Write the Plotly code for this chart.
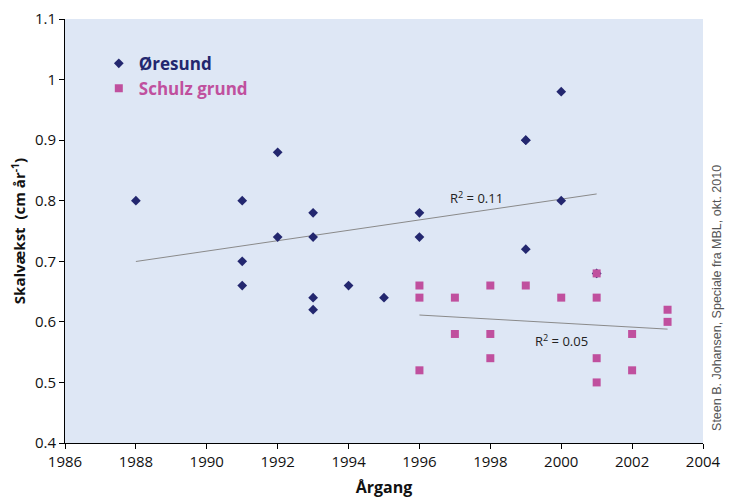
import numpy as np
import plotly.graph_objects as go

# Øresund
oresund_year = [1988, 1991, 1991, 1991, 1992, 1992, 1993, 1993, 1993, 1993,
                1994, 1995, 1996, 1996, 1999, 1999, 1999, 2000, 2000, 2001]
oresund_val = [0.80, 0.80, 0.70, 0.66, 0.88, 0.74, 0.78, 0.74, 0.64, 0.62,
               0.66, 0.64, 0.78, 0.74, 0.90, 0.90, 0.72, 0.98, 0.80, 0.68]

# Schulz grund
schulz_year = [1996, 1996, 1996, 1997, 1997, 1998, 1998, 1998, 1999, 2000,
               2001, 2001, 2001, 2001, 2002, 2002, 2003, 2003]
schulz_val = [0.66, 0.64, 0.52, 0.64, 0.58, 0.66, 0.58, 0.54, 0.66, 0.64,
              0.68, 0.64, 0.54, 0.50, 0.58, 0.52, 0.62, 0.60]

r2_labels = ["R<sup>2</sup> = 0.11", "R<sup>2</sup> = 0.05"]

NAVY = "#23276F"
PINK = "#C0509E"

def trend(xs, ys):
    xs = np.array(xs, float); ys = np.array(ys, float)
    m, b = np.polyfit(xs, ys, 1)
    x2 = np.array([xs.min(), xs.max()])
    return x2, m * x2 + b

fig = go.Figure()

tx, ty = trend(oresund_year, oresund_val)
fig.add_trace(go.Scatter(x=tx, y=ty, mode="lines", line=dict(color="#8a8a8a", width=1),
                         showlegend=False, hoverinfo="skip"))
tx2, ty2 = trend(schulz_year, schulz_val)
fig.add_trace(go.Scatter(x=tx2, y=ty2, mode="lines", line=dict(color="#8a8a8a", width=1),
                         showlegend=False, hoverinfo="skip"))

fig.add_trace(go.Scatter(x=oresund_year, y=oresund_val, mode="markers",
                         name="<b><span style='color:%s'>Øresund</span></b>" % NAVY,
                         marker=dict(symbol="diamond", size=7.5, color=NAVY)))
fig.add_trace(go.Scatter(x=schulz_year, y=schulz_val, mode="markers",
                         name="<b><span style='color:%s'>Schulz grund</span></b>" % PINK,
                         marker=dict(symbol="square", size=8, color=PINK)))

fig.add_annotation(x=1997.6, y=0.806, text=r2_labels[0], showarrow=False,
                   font=dict(size=13, color="#222222", family="Open Sans"))
fig.add_annotation(x=2000.0, y=0.57, text=r2_labels[1], showarrow=False,
                   font=dict(size=13, color="#222222", family="Open Sans"))

fig.add_annotation(xref="paper", yref="paper", x=1.036, y=0.342, textangle=-90,
                   text="Steen B. Johansen, Speciale fra MBL, okt. 2010",
                   showarrow=False, font=dict(size=12.5, color="#555555", family="Liberation Sans"))

fig.update_layout(
    width=725, height=491,
    margin=dict(l=57, r=30, t=11, b=56),
    paper_bgcolor="white",
    plot_bgcolor="#DEE7F5",
    font=dict(family="Open Sans", color="#111111", size=14),
    legend=dict(x=0.053, y=0.937, xanchor="left", yanchor="top",
                bgcolor="rgba(0,0,0,0)", font=dict(size=17), itemwidth=30,
                tracegroupgap=0),
    xaxis=dict(range=[1986, 2004], dtick=2, tick0=1986, showgrid=False, zeroline=False,
               showline=True, linecolor="black", linewidth=1, ticks="outside",
               ticklen=5, tickcolor="black", mirror=False, automargin=False,
               title=dict(text="<b>Årgang</b>", font=dict(size=16), standoff=11),
               tickfont=dict(size=15, family="Liberation Sans Narrow, Open Sans")),
    yaxis=dict(range=[0.4, 1.1], dtick=0.1, tick0=0.4, showgrid=False, zeroline=False,
               showline=True, linecolor="black", linewidth=1, ticks="outside",
               ticklen=5, tickcolor="black", automargin=False,
               title=dict(text="<b>Skalvækst  (cm år<sup>-1</sup>)</b>", font=dict(size=15), standoff=6),
               tickfont=dict(size=15)),
)

fig.write_html("out.html")
